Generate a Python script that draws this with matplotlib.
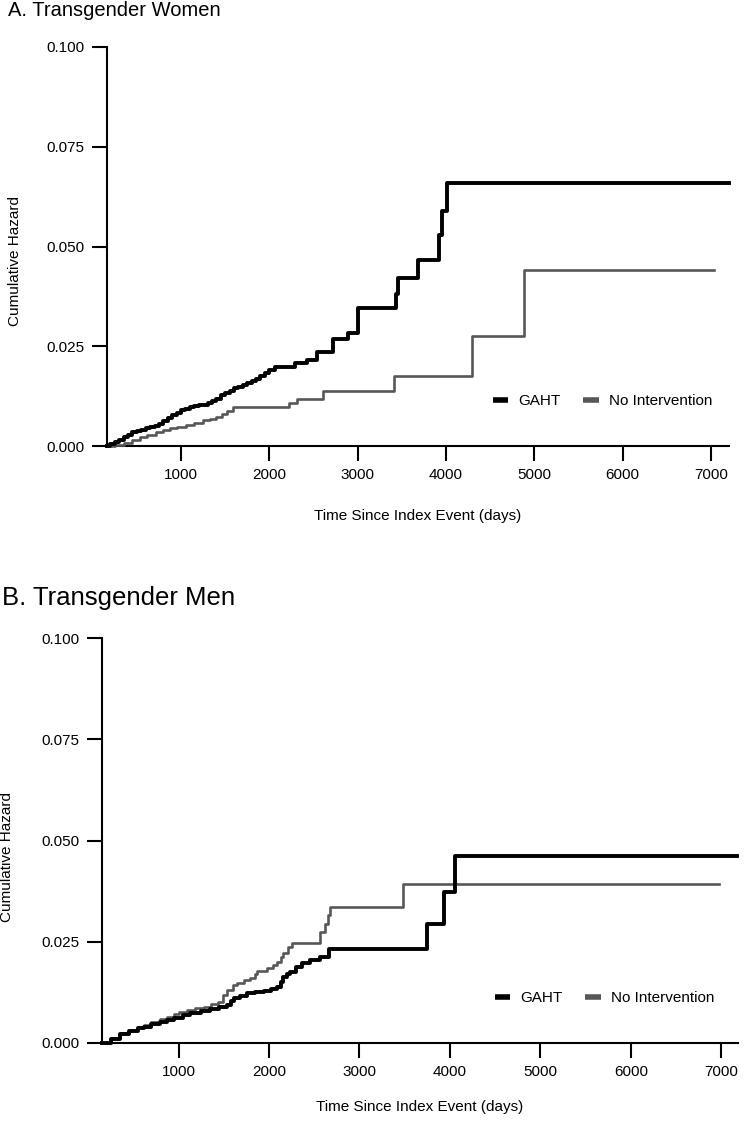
import matplotlib
matplotlib.use("Agg")
import matplotlib.pyplot as plt
from matplotlib.lines import Line2D

plt.rcParams['font.family'] = ['Liberation Sans', 'DejaVu Sans']

# Panel A: transgender women
a_gaht_t = [162, 200, 250, 300, 350, 400, 450, 500, 550, 600, 650, 700, 750, 800, 850,
            900, 950, 1000, 1050, 1100, 1150, 1200, 1250, 1300, 1350, 1400, 1450, 1500,
            1550, 1600, 1650, 1700, 1750, 1800, 1850, 1900, 1950, 2000, 2060, 2290, 2422,
            2536, 2724, 2893, 3000, 3430, 3453, 3680, 3920, 3960, 4010, 7205]
a_gaht_h = [0.0, 0.0004, 0.0010, 0.0016, 0.0022, 0.0028, 0.0034, 0.0038, 0.0041, 0.0044,
            0.0047, 0.0050, 0.0056, 0.0063, 0.0070, 0.0077, 0.0083, 0.0089, 0.0093, 0.0097,
            0.0101, 0.0103, 0.0104, 0.0107, 0.0113, 0.0119, 0.0127, 0.0133, 0.0139, 0.0145,
            0.0149, 0.0153, 0.0157, 0.0162, 0.0167, 0.0175, 0.0183, 0.0190, 0.0197, 0.0207,
            0.0215, 0.0236, 0.0267, 0.0284, 0.0347, 0.0382, 0.0420, 0.0467, 0.0528, 0.0590,
            0.0658, 0.0658]
a_none_t = [162, 250, 350, 450, 540, 620, 720, 800, 880, 960, 1060, 1150, 1250, 1330, 1400,
            1460, 1520, 1590, 2226, 2309, 2610, 3411, 4291, 4887, 7035]
a_none_h = [0.0, 0.0003, 0.0007, 0.0015, 0.0023, 0.0028, 0.0036, 0.0040, 0.0044, 0.0047,
            0.0052, 0.0057, 0.0065, 0.0068, 0.0073, 0.0079, 0.0087, 0.0097, 0.0109, 0.0119,
            0.0137, 0.0176, 0.0276, 0.0442, 0.0442]

# Panel B: transgender men
b_gaht_t = [154, 250, 350, 450, 550, 620, 700, 800, 870, 950, 1050, 1130, 1250, 1350, 1450,
            1535, 1580, 1608, 1680, 1755, 1850, 1940, 2020, 2087, 2130, 2160, 2200, 2234,
            2300, 2363, 2455, 2566, 2669, 3745, 3940, 4057, 7177]
b_gaht_h = [0.0, 0.0011, 0.0021, 0.0029, 0.0036, 0.0040, 0.0046, 0.0052, 0.0057, 0.0062,
            0.0068, 0.0073, 0.0078, 0.0083, 0.0089, 0.0094, 0.0103, 0.0110, 0.0117, 0.0123,
            0.0127, 0.0129, 0.0134, 0.0139, 0.0150, 0.0164, 0.0171, 0.0176, 0.0188, 0.0197,
            0.0205, 0.0213, 0.0231, 0.0294, 0.0372, 0.0461, 0.0461]
b_none_t = [154, 250, 350, 450, 550, 620, 700, 800, 870, 950, 1000, 1090, 1180, 1280, 1360,
            1440, 1490, 1540, 1600, 1650, 1720, 1790, 1840, 1870, 1980, 2040, 2090, 2130,
            2160, 2210, 2253, 2566, 2621, 2650, 2670, 3480, 6978]
b_none_h = [0.0, 0.0012, 0.0024, 0.0032, 0.0040, 0.0045, 0.0051, 0.0059, 0.0065, 0.0072,
            0.0076, 0.0081, 0.0086, 0.0090, 0.0096, 0.0102, 0.0118, 0.0131, 0.0142, 0.0149,
            0.0155, 0.0160, 0.0170, 0.0178, 0.0184, 0.0193, 0.0200, 0.0212, 0.0223, 0.0236,
            0.0248, 0.0275, 0.0295, 0.0315, 0.0336, 0.0392, 0.0392]

y_ticks = [0.0, 0.025, 0.05, 0.075, 0.1]
x_ticks = [1000, 2000, 3000, 4000, 5000, 6000, 7000]
series_names = ['GAHT', 'No Intervention']
GAHT_COLOR = '#000000'
NONE_COLOR = '#575757'

W, H = 747, 1124
fig = plt.figure(figsize=(W / 100, H / 100), dpi=100)


def px_axes(left, top, right, bottom):
    return fig.add_axes([left / W, 1 - bottom / H, (right - left) / W, (bottom - top) / H])


def draw_panel(ax, gaht_t, gaht_h, none_t, none_h, xlim, ylab_xy, xlab_y, leg_anchor):
    ax.step(none_t, none_h, where='post', color=NONE_COLOR, lw=1.9, clip_on=False, zorder=3)
    ax.step(gaht_t, gaht_h, where='post', color=GAHT_COLOR, lw=2.8, clip_on=False, zorder=4)
    ax.set_xlim(*xlim)
    ax.set_ylim(0, 0.1)
    ax.set_yticks(y_ticks)
    ax.set_yticklabels(['%.3f' % v for v in y_ticks])
    ax.set_xticks(x_ticks)
    ax.set_xticklabels([str(v) for v in x_ticks])
    for s in ['top', 'right']:
        ax.spines[s].set_visible(False)
    for s in ['left', 'bottom']:
        ax.spines[s].set_linewidth(1.5)
    ax.tick_params(axis='both', direction='out', length=11, width=1.5, labelsize=11, pad=5)
    ax.set_ylabel('Cumulative Hazard', fontsize=11)
    ax.yaxis.set_label_coords(*ylab_xy)
    ax.set_xlabel('Time Since Index Event (days)', fontsize=11)
    ax.xaxis.set_label_coords(0.5, xlab_y)
    handles = [Line2D([], [], color=GAHT_COLOR, lw=4, solid_capstyle='butt'),
               Line2D([], [], color=NONE_COLOR, lw=4, solid_capstyle='butt')]
    ax.legend(handles, series_names, ncol=2, frameon=False, fontsize=11,
              loc='center left', bbox_to_anchor=leg_anchor, handlelength=1.0,
              handletextpad=0.65, columnspacing=1.5, borderpad=0, borderaxespad=0)


ax_a = px_axes(107, 47, 729, 446)
draw_panel(ax_a, a_gaht_t, a_gaht_h, a_none_t, a_none_h, (162, 7205),
           (-0.137, 0.464), -0.157, ((493 - 107) / 622, (446 - 401) / 399))

ax_b = px_axes(102, 638, 738, 1043)
draw_panel(ax_b, b_gaht_t, b_gaht_h, b_none_t, b_none_h, (154, 7185),
           (-0.139, 0.459), -0.141, ((495 - 102) / 636, (1043 - 998) / 405))

fig.text(8 / W, 1 - 16 / H, 'A. Transgender Women', fontsize=14.5, va='baseline', ha='left')
fig.text(2 / W, 1 - 605 / H, 'B. Transgender Men', fontsize=18.5, va='baseline', ha='left')

fig.savefig('out.png', dpi=100)
